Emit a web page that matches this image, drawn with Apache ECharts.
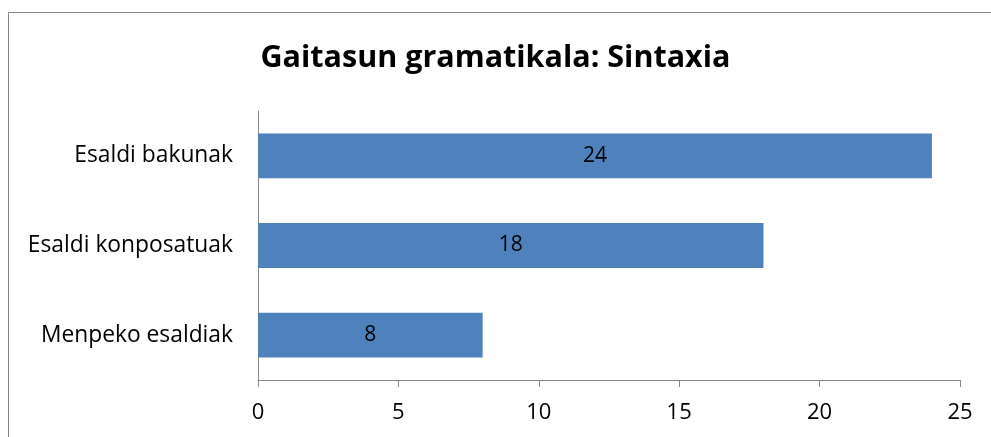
<!DOCTYPE html>
<html><head><meta charset="utf-8">
<script src="https://cdn.jsdelivr.net/npm/echarts@6/dist/echarts.min.js"></script>
<style>html,body{margin:0;padding:0;background:#fff}#c{width:991px;height:437px}</style>
</head><body><div id="c"></div>
<script>
const categories = ['Menpeko esaldiak', 'Esaldi konposatuak', 'Esaldi bakunak'];
const values = [8, 18, 24];
const titleText = 'Gaitasun gramatikala: Sintaxia';
const FONT = 'Open Sans';
const chart = echarts.init(document.getElementById('c'));
chart.setOption({
  animation: false,
  backgroundColor: '#fff',
  title: {text: titleText, left: 'center', top: 38,
    textStyle: {fontFamily: FONT, fontSize: 30.5, fontWeight: 'bold', color: '#000'}},
  graphic: [{type: 'rect', shape: {x: 8.5, y: 12.5, width: 1000, height: 500},
    style: {fill: null, stroke: '#868686', lineWidth: 1}, silent: true, z: -1}],
  grid: {left: 258, right: 31, top: 111, bottom: 57},
  xAxis: {type: 'value', min: 0, max: 25, interval: 5,
    axisLine: {show: true, lineStyle: {color: '#868686'}},
    axisTick: {show: true, length: 7, lineStyle: {color: '#868686'}},
    splitLine: {show: false},
    axisLabel: {fontFamily: FONT, fontSize: 22, color: '#000', margin: 22}},
  yAxis: {type: 'category', data: categories,
    axisLine: {show: true, lineStyle: {color: '#868686'}},
    axisTick: {show: false},
    axisLabel: {fontFamily: FONT, fontSize: 22.8, color: '#000', margin: 25, padding: [3, 0, 0, 0]}},
  series: [{type: 'bar', data: values, barWidth: '50%',
    itemStyle: {color: '#4f81bd'},
    label: {show: true, position: 'inside', color: '#000', fontFamily: FONT, fontSize: 21, padding: [3, 0, 0, 0]}}]
});
</script></body></html>
